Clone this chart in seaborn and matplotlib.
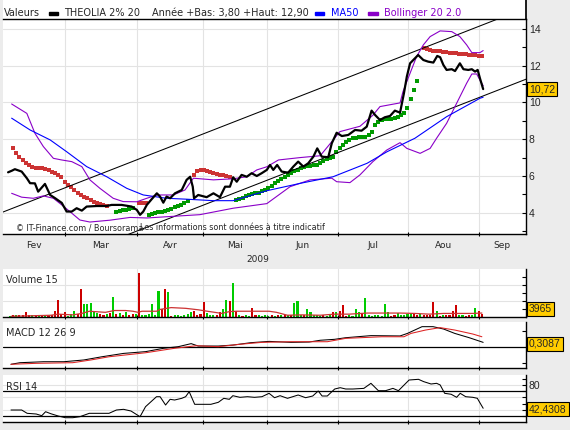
import matplotlib
matplotlib.use("Agg")
import matplotlib.pyplot as plt
import seaborn as sns

# ---------------- data (x = trading day index, 0 = early Feb 2009) ----------------
close_day = [2.5, 3.7, 4.6, 6.7, 8.3, 9.3, 10.8, 11.8, 13.9, 15.5, 17, 19.1, 20.6, 22.2, 23.7,
             25.3, 26.8, 29.9, 33, 34.5, 37.6, 40.7, 42.3, 43.3, 44.3, 45.4, 46.9, 48.5, 49.5,
             50.5, 51.5, 52.6, 54.1, 56.2, 57.7, 58.8, 59.6, 60, 61.3, 63.9, 66, 68, 69.6, 71.1,
             72.1, 73.2, 74.7, 76.3, 77.8, 79.4, 80.9, 82.5, 83.5, 84.5, 85.7, 87.1, 89.1, 90.7,
             92.2, 93.8, 95.3, 96.9, 98.1, 99.5, 101.5, 102.6, 104.1, 105.7, 107.7, 109.8, 111.8,
             113.4, 114.9, 116, 117.5, 119, 120.6, 122.1, 123.7, 124.9, 125.8, 126.8, 127.8,
             129.3, 130.9, 132.4, 134, 135.2, 136.1, 137.1, 138.1, 139.7, 140.7, 142.2, 143.3,
             144.8, 145.9, 146.9, 147.7, 148.4, 149.4]
close = [6.2, 6.29, 6.37, 6.24, 5.88, 5.61, 5.6, 5.15, 5.57, 4.97, 4.8, 4.54, 4.07, 4.07, 4.25,
         4.12, 4.34, 4.37, 4.37, 4.43, 4.43, 4.34, 4.16, 3.89, 4.07, 4.43, 4.74, 5.06, 4.88,
         4.55, 4.88, 4.79, 5.06, 5.24, 5.79, 5.96, 5.42, 4.79, 4.97, 4.85, 5.06, 4.85, 5.42, 5.42,
         5.93, 5.69, 6.06, 5.96, 6.15, 6.0, 6.15, 6.33, 6.6, 6.33, 6.6, 6.24, 6.18, 6.51,
         6.78, 6.51, 6.69, 7.05, 7.5, 7.05, 7.02, 7.78, 8.35, 8.17, 8.23, 8.5, 8.46,
         8.68, 9.55, 9.31, 9.04, 9.19, 9.26, 9.55, 9.44, 10.49, 11.4, 12.12, 12.3,
         12.57, 12.3, 12.21, 12.16, 12.52, 12.45, 12.03, 11.76, 11.8, 11.7, 12.12, 11.8,
         11.76, 11.8, 11.67, 11.76, 11.31, 10.72]

ma50_day = [3.6, 9.3, 15.5, 20.6, 26.8, 33, 39.2, 44.3, 51.5, 57.7, 66, 72.1, 82.5, 92.8, 103,
            113.5, 119.7, 128.3, 138.1, 148.4, 149.4]
ma50 = [9.14, 8.5, 7.96, 7.32, 6.51, 5.96, 5.33, 4.97, 4.79, 4.74, 4.66, 4.66, 5.2, 5.6, 5.96,
        6.69, 7.32, 8.05, 9.22, 10.22, 10.28]

boll_up_day = [3.6, 8.3, 10.8, 13.4, 16.5, 19.1, 22.2, 25.3, 27.8, 30.9, 35, 38.1, 42.3, 45.4,
               48.5, 53.6, 57.2, 59.8, 66, 72.1, 76.3, 79.4, 82.5, 86.1, 92.8, 99, 103, 105.1,
               111.3, 115.3, 117.5, 123.7, 124.6, 126.8, 128.8, 130.9, 133, 136.1, 139.7, 142.2,
               144.3, 145.9, 148.4, 149.4]
boll_up = [9.91, 9.4, 8.32, 7.6, 6.96, 6.87, 6.78, 6.51, 5.79, 5.33, 4.79, 4.61, 4.6, 4.79,
           4.97, 4.97, 5.24, 5.88, 5.79, 5.85, 5.96, 6.33, 6.5, 6.87, 7.0, 7.1, 7.95, 8.41,
           8.7, 9.3, 9.77, 9.97, 10.58, 11.58, 12.48, 13.12, 13.57, 13.88, 13.84, 13.57,
           13.12, 12.7, 12.7, 12.81]

boll_lo_day = [3.6, 6.7, 10.3, 13.4, 16.5, 19.1, 22.2, 24.7, 27.8, 34, 40.2, 45.4, 52.6, 61.8,
               72.1, 82.5, 89.7, 95.9, 102.6, 104.1, 108.2, 111.3, 115.3, 119.6, 123.7, 125.8,
               129.9, 133, 135, 138.1, 141.2, 144.3, 145.9, 147.4, 148.4, 149.4]
boll_lo = [5.06, 4.85, 4.79, 4.92, 4.79, 4.43, 3.98, 3.61, 3.5, 3.6, 3.75, 3.72, 3.8, 3.9,
           4.25, 4.5, 5.42, 5.79, 5.88, 5.69, 5.64, 6.06, 6.78, 7.41, 7.81, 7.5,
           7.23, 7.5, 8.05, 8.86, 9.95, 11.04, 11.54, 11.54, 11.21, 10.9]

# parabolic SAR: one dot per day, red above price / green below
sar_red_day = list(range(4, 34)) + [43, 44, 45] + list(range(60, 72)) + list(range(131, 150))
sar_red = [7.5, 7.25, 7.05, 6.87, 6.72, 6.6, 6.48, 6.42, 6.42, 6.42, 6.4, 6.33, 6.24, 6.15,
           6.05, 5.96, 5.69, 5.51, 5.39, 5.24, 5.1, 4.97, 4.85, 4.79, 4.7, 4.61, 4.55, 4.48,
           4.43, 4.39,
           4.55, 4.55, 4.55,
           6.06, 6.29, 6.3, 6.3, 6.25, 6.2, 6.15, 6.12, 6.08, 6.05, 6.02, 5.97,
           12.94, 12.88, 12.84, 12.81, 12.79, 12.77, 12.75, 12.72, 12.7, 12.68, 12.66, 12.64,
           12.63, 12.61, 12.59, 12.57, 12.55, 12.53, 12.52]
sar_green_day = list(range(36, 42)) + list(range(46, 59)) + list(range(73, 130))
sar_green = [4.07, 4.1, 4.13, 4.16, 4.2, 4.25,
             3.89, 3.93, 3.97, 4.02, 4.07, 4.12, 4.17, 4.23, 4.3, 4.37, 4.45, 4.55, 4.66,
             4.72, 4.77, 4.83, 4.9, 4.95, 5.0, 5.05, 5.1, 5.17, 5.25, 5.33, 5.47, 5.6, 5.72,
             5.85, 5.97, 6.08, 6.18, 6.27, 6.35, 6.42, 6.48, 6.53, 6.56, 6.59, 6.62, 6.72,
             6.82, 6.92, 6.99, 7.05, 7.3, 7.5, 7.7, 7.85, 7.97, 8.05, 8.08, 8.1, 8.1, 8.1,
             8.2, 8.4, 8.77, 8.95, 9.05, 9.07, 9.08, 9.1, 9.13, 9.2, 9.3, 9.4, 9.68, 10.17,
             10.67, 11.16]

# regression channel end points
chan_day = [0, 163]
chan_up = [3.98, 15.15]
chan_lo = [0.11, 11.28]

# daily volume from day 3 to day 149, 1 = up day (green), 0 = down day (red)
vol_day = list(range(3, 150))
vol = [500, 700, 600, 910, 800, 2548, 600, 700, 600, 910, 900, 700, 1000, 910, 3094, 8554,
       1200, 2184, 500, 1100, 3094, 1500, 14014, 6188, 6370, 6916, 2184, 1820, 1400, 910, 1200,
       1638, 10010, 1300, 1638, 900, 2184, 600, 1100, 1500, 21840, 700, 600, 1274, 6370, 910,
       12740, 4004, 14014, 12194, 500, 900, 600, 500, 910, 1200, 2400, 3094, 1000, 1274, 7280,
       1820, 910, 800, 910, 2184, 4004, 8554, 7644, 16744, 3094, 600, 500, 600, 500, 4368, 700,
       600, 500, 600, 500, 910, 500, 700, 600, 600, 700, 800, 6734, 7644, 700, 1000, 3640,
       2184, 700, 900, 500, 700, 500, 1100, 2184, 2184, 3094, 5824, 500, 800, 500, 4004, 2184,
       1638, 9464, 700, 500, 700, 900, 500, 6370, 2184, 500, 800, 1638, 700, 910, 1200, 1820,
       1820, 910, 1500, 700, 700, 1000, 7280, 3094, 500, 900, 700, 800, 3094, 5824, 700, 900,
       500, 600, 910, 4550, 3094, 1300]
vol_up = [1, 0, 1, 0, 0, 0, 0, 1, 0, 1, 0, 1, 0, 0, 0, 0,
          0, 0, 1, 1, 1, 0, 0, 1, 1, 1, 1, 1, 0, 0, 1,
          0, 1, 0, 1, 0, 1, 0, 0, 1, 0, 1, 1, 1, 1, 1,
          1, 0, 0, 1, 0, 1, 1, 1, 1, 1, 1, 0, 0, 0, 0,
          1, 1, 1, 0, 0, 1, 1, 0, 1, 0, 1, 0, 1, 1, 0, 0,
          1, 1, 1, 1, 0, 1, 0, 1, 0, 1, 0, 1, 1, 1, 0, 1,
          1, 1, 1, 1, 0, 1, 1, 0, 1, 0, 0, 0, 1, 1, 1, 1,
          0, 1, 1, 1, 1, 1, 1, 1, 1, 0, 0, 1, 1, 1, 1, 1,
          0, 0, 1, 0, 0, 0, 0, 1, 0, 1, 0, 0, 0, 0, 1, 1,
          0, 0, 1, 1, 0, 0]
vol_ma_day = [3.4, 15.7, 18, 22.5, 25.3, 27.6, 29.2, 32.6, 35.4, 38.8, 41.1, 42.7, 43.9, 48.4,
              49.5, 52.9, 57.4, 61.3, 64.1, 66.4, 68.6, 70.9, 73.1, 78.7, 83.2, 85.5, 88.9,
              93.4, 99, 103.5, 108, 113.6, 118.1, 123.7, 128.2, 132.7, 137.2, 141.7, 146.2, 149]
vol_ma = [180, 728, 1274, 910, 1638, 2730, 2548, 2184, 3094, 3094, 2730, 2184, 2730, 2730,
          3640, 4550, 4186, 3458, 2730, 2184, 1638, 2548, 2730, 2730, 2730, 2184, 728,
          910, 728, 1274, 1274, 1820, 1820, 1820, 1638, 1274, 1638, 1638, 1638, 1820]

macd_day = [3.4, 6.2, 13.5, 19.7, 25.9, 31.5, 38.2, 45, 50.6, 55.1, 59.1, 61.3, 67.5, 72, 77.6,
            83.2, 90, 95.6, 99, 103.5, 106.9, 114.7, 123.7, 126, 130.5, 133.9, 137.2, 140.6,
            145.1, 149.4]
macd = [-1.06, -0.96, -0.9, -0.9, -0.79, -0.59, -0.38, -0.27, -0.06, 0.04, 0.23, 0.08, 0.08,
        0.14, 0.29, 0.37, 0.31, 0.33, 0.44, 0.5, 0.6, 0.73, 0.71, 0.87, 1.29, 1.29, 1.14, 0.87,
        0.6, 0.31]
signal_day = [3.4, 11.2, 22.5, 28.1, 33.7, 45, 54, 60.7, 67.5, 74.2, 81, 90, 101.2, 106.9,
              118.1, 124.9, 127.1, 131.6, 136.1, 140.6, 146.2, 149]
signal = [-1.06, -1.0, -0.96, -0.79, -0.59, -0.34, -0.06, 0.1, 0.04, 0.19, 0.31, 0.35, 0.35,
          0.56, 0.66, 0.66, 0.87, 1.08, 1.23, 1.08, 0.83, 0.66]

rsi_day = [3.4, 6.7, 8.4, 11.2, 12.9, 14.1, 15.7, 18, 20.2, 22.5, 24.7, 27.6, 33.7, 36, 38.2,
           40.5, 43.3, 45, 46.7, 48.4, 49.5, 51.2, 52.6, 54, 56.2, 57.4, 58.5, 60.2, 62.4, 65.2,
           67.5, 69.2, 70.9, 72, 74.2, 76.5, 78.7, 81, 83.2, 84.9, 86.6, 88.9, 92.2, 94.5, 96.7,
           98.4, 99.6, 101.2, 103.5, 105.2, 106.9, 109.1, 112.5, 114.7, 117, 119.2, 121.5,
           123.2, 126.5, 129.4, 131, 133.3, 135, 136.1, 137.5, 139.5, 141.2, 142.3, 144,
           146.2, 147.6, 148.5, 149.4]
rsi = [39.6, 39.6, 34.3, 33.2, 30.5, 36.9, 33.7, 30, 27.3, 27.3, 28.9, 34.3, 34.3, 39.6, 40.7,
       38, 28.9, 44.9, 52.9, 60.9, 60.9, 47.6, 56.7, 55.6, 58.3, 60.9, 68.9, 48.7, 48.7, 48.7,
       51.9, 58.3, 56.7, 62.5, 59.9, 60.9, 59.9, 60.9, 66.3, 59.3, 62.5, 58.3, 63.6, 59.3, 62,
       70, 62, 62, 73.2, 75.3, 73.2, 73.2, 74.2, 82.3, 70.5, 70.5, 74.2,
       70.5, 87.6, 88.7, 85, 81.2, 82.3, 79.7, 66.3, 64.8, 59.9, 66.3, 60.9,
       59.9, 58.3, 50.3, 42.4]

month_edges = [20, 42.4, 62.8, 82.6, 104.5, 126.2, 148.1]
month_mid = [10.5, 31.2, 52.6, 72.7, 93.5, 115.3, 137.1, 155.3]
month_names = ["Fev", "Mar", "Avr", "Mai", "Jun", "Jul", "Aou", "Sep"]

# ---------------- style ----------------
sns.set_theme(style="white")
plt.rcParams['font.family'] = ['DejaVu Sans']
NUMFONT = "Liberation Sans"
BG = "#ececec"
GRID = "#e3e3e3"
PURPLE = "#8a00c8"
BLUE = "#0000ff"
SAR_RED = "#cc3333"
SAR_GREEN = "#009900"
W, H = 570, 430
XL = (3 / 3.234, 526 / 3.234)


def px_axes(x0, y0, x1, y1):
    return fig.add_axes([x0 / W, 1 - y1 / H, (x1 - x0) / W, (y1 - y0) / H])


def style_panel(ax, top=False):
    ax.set_facecolor("white")
    ax.spines["left"].set_visible(False)
    ax.spines["top"].set_visible(top)
    for s in ["right", "bottom", "top"]:
        ax.spines[s].set_color("black")
        ax.spines[s].set_linewidth(1.0)
    ax.set_xlim(*XL)
    ax.set_xticks(month_edges)
    ax.set_xticklabels([])
    ax.grid(True, color=GRID, linewidth=0.8)
    ax.yaxis.tick_right()
    ax.tick_params(axis="y", which="both", direction="in", length=3, width=0.8,
                   color="black", labelsize=7.5, pad=2, left=False, right=True)
    ax.tick_params(axis="x", which="major", direction="inout", length=3, width=0.8,
                   color="black", bottom=True)
    for lab in ax.get_yticklabels():
        lab.set_fontfamily(NUMFONT)
    ax.set_xlabel("")
    ax.set_ylabel("")


def value_box(y_px, txt):
    fig.text(529 / W, 1 - y_px / H, txt, fontsize=7.5, va="center", ha="left",
             family=NUMFONT,
             bbox=dict(boxstyle="square,pad=0.18", fc="#ffcc00", ec="black", lw=0.8))


fig = plt.figure(figsize=(W / 100, H / 100), dpi=100, facecolor=BG)

# header
hd = px_axes(3, 0, 526, 19.3)
hd.set_facecolor("white")
for s in ["left", "top", "bottom"]:
    hd.spines[s].set_visible(False)
hd.spines["right"].set_color("black")
hd.set_xticks([])
hd.set_yticks([])
hd.set_xlim(3, 526)
hd.set_ylim(19.3, 0)
hd.text(4, 13.5, "Valeurs", fontsize=7, va="center")
hd.add_patch(plt.Rectangle((49, 12.5), 9, 3, color="black"))
hd.text(64, 13.5, "THEOLIA 2% 20", fontsize=7, va="center")
hd.text(152, 13.5, "Année +Bas: 3,80 +Haut: 12,90", fontsize=7, va="center")
hd.add_patch(plt.Rectangle((315, 12.5), 9, 3, color=BLUE))
hd.text(331, 13.5, "MA50", fontsize=7, va="center", color=BLUE)
hd.add_patch(plt.Rectangle((368, 12.5), 10, 3, color=PURPLE))
hd.text(384, 13.5, "Bollinger 20 2.0", fontsize=7, va="center", color=PURPLE)

# main price panel
ax = px_axes(3, 19.3, 526, 234)
ax.set_ylim(2.85, 14.51)
ax.set_yticks([4, 6, 8, 10, 12, 14])
ax.set_yticks([3, 5, 7, 9, 11, 13], minor=True)
style_panel(ax, top=True)
ax.set_xticks(month_mid, minor=True)
ax.set_xticklabels(month_names, minor=True)
ax.tick_params(axis="x", which="minor", length=0, labelsize=6.5, pad=5)

sns.lineplot(x=chan_day, y=chan_up, ax=ax, color="black", linewidth=0.75)
sns.lineplot(x=chan_day, y=chan_lo, ax=ax, color="black", linewidth=0.75)
sns.lineplot(x=boll_up_day, y=boll_up, ax=ax, color=PURPLE, linewidth=0.8)
sns.lineplot(x=boll_lo_day, y=boll_lo, ax=ax, color=PURPLE, linewidth=0.8)
sns.lineplot(x=ma50_day, y=ma50, ax=ax, color=BLUE, linewidth=0.8)
sns.scatterplot(x=sar_red_day, y=sar_red, ax=ax, color=SAR_RED, marker="s", s=6, linewidth=0)
sns.scatterplot(x=sar_green_day, y=sar_green, ax=ax, color=SAR_GREEN, marker="s", s=6,
                linewidth=0)
sns.lineplot(x=close_day, y=close, ax=ax, color="black", linewidth=1.6)
ax.set_xlim(*XL)
ax.set_ylim(2.85, 14.51)
ax.set_xlabel("")
ax.set_ylabel("")
ax.text(5, 3.2, "© IT-Finance.com / Boursorama", fontsize=5.8, va="center")
ax.text(43.3, 3.2, "Les informations sont données à titre indicatif", fontsize=5.8,
        va="center")
fig.text(258 / W, 1 - 259 / H, "2009", fontsize=6.5, ha="center", va="center")
value_box(89, "10,72")

# volume panel
av = px_axes(3, 269, 526, 316.7)
av.set_ylim(0, 23850)
av.set_yticks([8000, 16000])
av.set_yticks([4000, 12000, 20000], minor=True)
style_panel(av)
colors = ["#00cc00" if u else "#cc0000" for u in vol_up]
av.bar(vol_day, vol, width=0.65, color=colors, linewidth=0)
sns.lineplot(x=vol_ma_day, y=vol_ma, ax=av, color="#cc3333", linewidth=0.9)
av.set_yticklabels([])
av.set_xlabel("")
av.set_ylabel("")
av.text(0.005, 0.77, "Volume 15", transform=av.transAxes, fontsize=7, va="center")
value_box(309, "3965")

# MACD panel
am = px_axes(3, 321.7, 526, 368.3)
am.set_ylim(-1.31, 1.6)
am.set_yticks([-1, 1])
style_panel(am)
am.axhline(0, color="black", linewidth=0.9)
sns.lineplot(x=macd_day, y=macd, ax=am, color="black", linewidth=0.75)
sns.lineplot(x=signal_day, y=signal, ax=am, color="#dd2222", linewidth=0.75)
am.set_yticklabels([])
am.grid(False, axis="y")
am.set_xlabel("")
am.set_ylabel("")
am.text(0.005, 0.75, "MACD 12 26 9", transform=am.transAxes, fontsize=7, va="center")
value_box(344, "0,3087")

# RSI panel
ar = px_axes(3, 375, 526, 421.7)
ar.set_ylim(20.9, 95.6)
ar.set_yticks([40, 60, 80])
ar.set_yticks([30, 50, 70, 90], minor=True)
style_panel(ar)
ar.set_yticklabels(["", "", "80"], family=NUMFONT)
ar.axhline(70, color="black", linewidth=0.9)
ar.axhline(30, color="black", linewidth=0.9)
sns.lineplot(x=rsi_day, y=rsi, ax=ar, color="black", linewidth=0.75)
ar.set_xlabel("")
ar.set_ylabel("")
ar.text(0.005, 0.75, "RSI 14", transform=ar.transAxes, fontsize=7, va="center")
value_box(409, "42,4308")

fig.savefig("out.png", dpi=100, facecolor=BG)
